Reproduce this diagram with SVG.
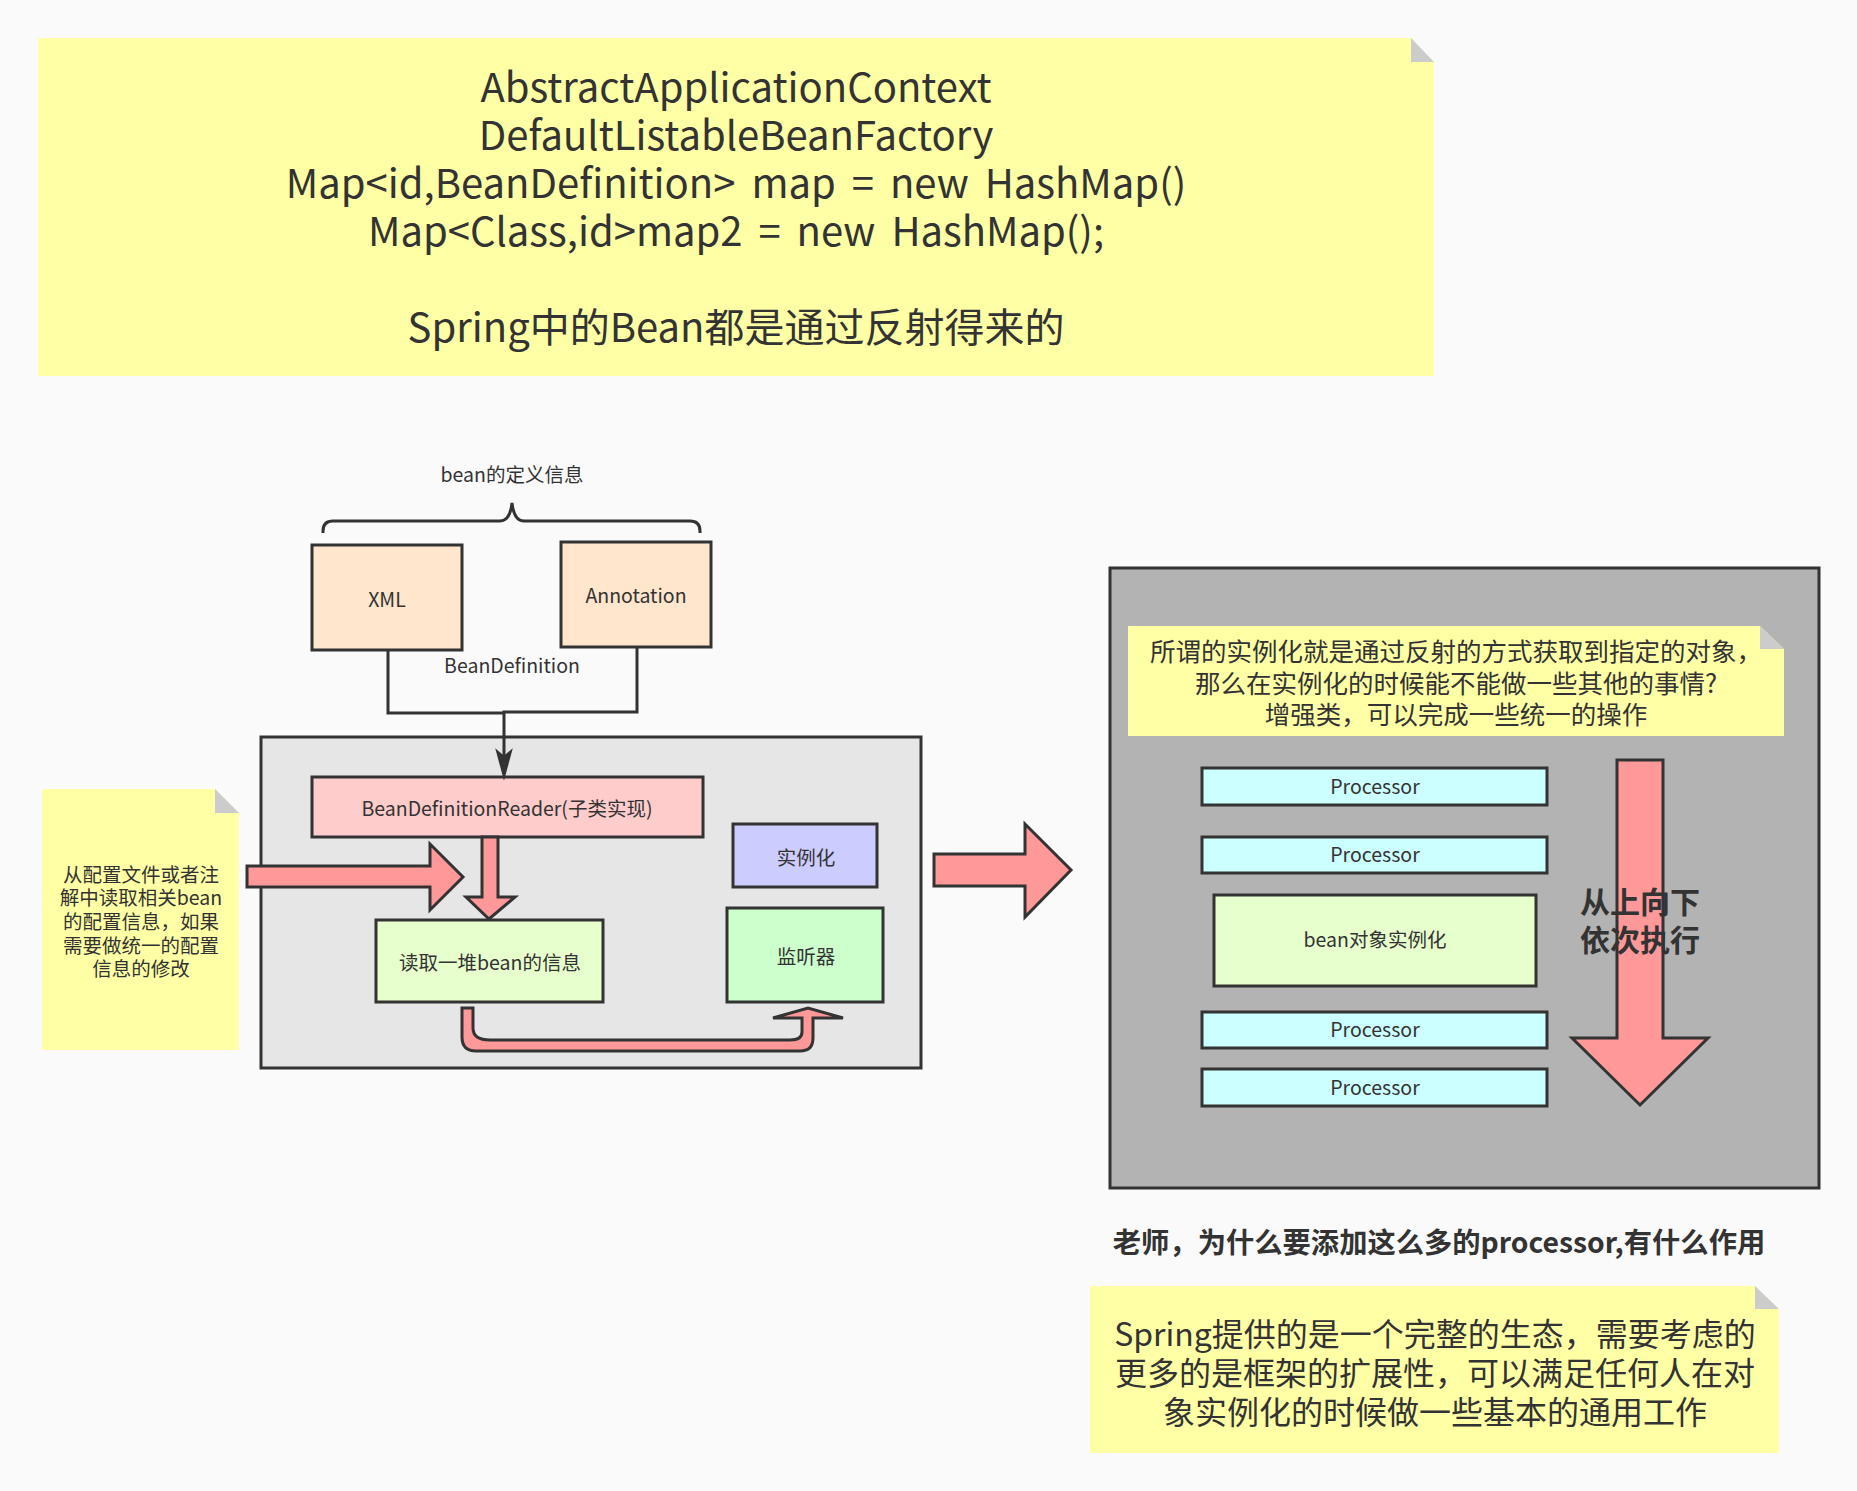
<svg xmlns="http://www.w3.org/2000/svg" width="1857" height="1491" viewBox="0 0 1857 1491">
<style>
text{font-family:"Noto Sans CJK SC","Noto Sans",sans-serif;fill:#333;text-anchor:middle}
.s{font-size:19.5px}
.box{stroke:#333;stroke-width:3}
.note{fill:#FFFFA6}
.fold{fill:#CCCCCC}
.blk{fill:#FF9999;stroke:#333;stroke-width:3;stroke-linejoin:miter}
.ln{fill:none;stroke:#333;stroke-width:3}
.b{font-weight:bold}
.big{font-size:40px;word-spacing:7px}
</style>
<rect width="1857" height="1491" fill="#FAFAFA"/>

<g id="top-note">
<path class="note" d="M38,38 H1411 L1434,62 V376 H38 Z"/>
<path class="fold" d="M1411,38 L1434,62 H1411 Z"/>
<text class="big" x="736" y="102">AbstractApplicationContext</text>
<text class="big" x="736" y="150">DefaultListableBeanFactory</text>
<text class="big" x="736" y="198">Map&lt;id,BeanDefinition&gt; map = new HashMap()</text>
<text class="big" x="736" y="246">Map&lt;Class,id&gt;map2 = new HashMap();</text>
<text class="big" x="736" y="342">Spring中的Bean都是通过反射得来的</text>
</g>

<g id="brace-label">
<path class="ln" d="M323,533 V531 Q323,521 333,521 H500 Q510,521 512,503 Q514,521 524,521 H690 Q700,521 700,531 V533"/>
<text class="s" x="512" y="482">bean的定义信息</text>
</g>

<g id="left-container">
<rect class="box" x="261" y="737" width="660" height="331" fill="#E6E6E6"/>
</g>

<g id="xml">
<rect class="box" x="312" y="545" width="150" height="105" fill="#FFE6CC"/>
<text class="s" x="387" y="607">XML</text>
</g>
<g id="annotation">
<rect class="box" x="561" y="542" width="150" height="105" fill="#FFE6CC"/>
<text class="s" x="636" y="603">Annotation</text>
</g>

<g id="reader">
<rect class="box" x="312" y="777" width="391" height="60" fill="#FFCCCC"/>
<text class="s" x="507" y="816">BeanDefinitionReader(子类实现)</text>
</g>
<g id="instantiate">
<rect class="box" x="733" y="824" width="144" height="63" fill="#CCCCFF"/>
<text class="s" x="806" y="865">实例化</text>
</g>
<g id="listener">
<rect class="box" x="727" y="908" width="156" height="94" fill="#CCFFCC"/>
<text class="s" x="806" y="964">监听器</text>
</g>
<g id="read-beans">
<rect class="box" x="376" y="920" width="227" height="82" fill="#E6FFCC"/>
<text class="s" x="490" y="970">读取一堆bean的信息</text>
</g>

<g id="left-note">
<path class="note" d="M42,789 H215 L239,813 V1050 H42 Z"/>
<path class="fold" d="M215,789 L239,813 H215 Z"/>
<text class="s" x="141" y="882">从配置文件或者注</text>
<text class="s" x="141" y="905">解中读取相关bean</text>
<text class="s" x="141" y="929">的配置信息，如果</text>
<text class="s" x="141" y="953">需要做统一的配置</text>
<text class="s" x="141" y="976">信息的修改</text>
</g>

<g id="right-container">
<rect class="box" x="1110" y="568" width="709" height="620" fill="#B3B3B3"/>
</g>
<g id="right-note">
<path class="note" d="M1128,626 H1760 L1784,649 V736 H1128 Z"/>
<path class="fold" d="M1760,626 L1784,649 H1760 Z"/>
<text font-size="25.5" x="1456" y="661">所谓的实例化就是通过反射的方式获取到指定的对象，</text>
<text font-size="25.5" x="1456" y="693">那么在实例化的时候能不能做一些其他的事情?</text>
<text font-size="25.5" x="1456" y="724">增强类，可以完成一些统一的操作</text>
</g>

<g id="processor1">
<rect class="box" x="1202" y="768" width="345" height="37" fill="#CCFFFF"/>
<text class="s" x="1375" y="794">Processor</text>
</g>
<g id="processor2">
<rect class="box" x="1202" y="837" width="345" height="36" fill="#CCFFFF"/>
<text class="s" x="1375" y="862">Processor</text>
</g>
<g id="bean-instantiate">
<rect class="box" x="1214" y="895" width="322" height="91" fill="#E6FFCC"/>
<text class="s" x="1375" y="947">bean对象实例化</text>
</g>
<g id="processor3">
<rect class="box" x="1202" y="1012" width="345" height="36" fill="#CCFFFF"/>
<text class="s" x="1375" y="1037">Processor</text>
</g>
<g id="processor4">
<rect class="box" x="1202" y="1069" width="345" height="37" fill="#CCFFFF"/>
<text class="s" x="1375" y="1095">Processor</text>
</g>

<g id="down-arrow">
<path class="blk" d="M1617,760 H1663 V1038 H1708 L1640,1105 L1572,1038 H1617 Z"/>
<text class="b" font-size="30" x="1640" y="913">从上向下</text>
<text class="b" font-size="30" x="1640" y="951">依次执行</text>
</g>

<g id="question">
<text class="b" font-size="28.3" x="1439" y="1253">老师，为什么要添加这么多的processor,有什么作用</text>
</g>

<g id="bottom-note">
<path class="note" d="M1090,1286 H1755 L1779,1309 V1453 H1090 Z"/>
<path class="fold" d="M1755,1286 L1779,1309 H1755 Z"/>
<text font-size="32" x="1435" y="1346">Spring提供的是一个完整的生态，需要考虑的</text>
<text font-size="32" x="1435" y="1385">更多的是框架的扩展性，可以满足任何人在对</text>
<text font-size="32" x="1435" y="1424">象实例化的时候做一些基本的通用工作</text>
</g>

<g id="connectors">
<path class="ln" d="M388,650 V713 H504"/>
<path class="ln" d="M637,647 V712 H504 V757"/>
<path d="M497,751 L504,777 L511,751 L504,757 Z" fill="#333" stroke="#333" stroke-width="2"/>
<text class="s" x="512" y="673">BeanDefinition</text>
<path class="blk" d="M247,866 H430 V844 L463,877 L430,910 V887 H247 Z"/>
<path class="blk" d="M482,837 H498 V897 H515 L489,919 L466,897 H482 Z"/>
<path class="blk" d="M462,1008 H473 V1028 Q473,1040 490,1040 H790 Q802,1040 802,1032 V1018 H773 L808,1008 L843,1018 H813 V1038 Q813,1051 800,1051 H476 Q462,1051 462,1037 Z"/>
<path class="blk" d="M934,854 H1025 V824 L1071,870 L1025,917 V886 H934 Z"/>
</g>
</svg>
